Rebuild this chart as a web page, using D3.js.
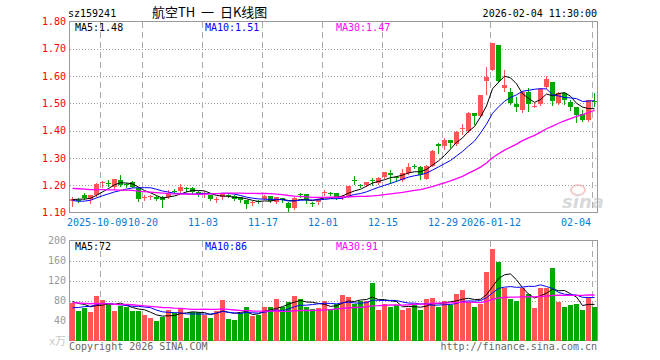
<!DOCTYPE html>
<html>
<head>
<meta charset="utf-8">
<script src="https://cdn.jsdelivr.net/npm/d3@7"></script>
<style>
    body { margin: 0; background: #fff; }
    text { font-family: "DejaVu Sans Mono", monospace; font-size: 10px; }
</style>
</head>
<body>
<script>
// trading days shown (09-24 .. 02-04)
const dates = [
    "2025-09-24", "2025-09-25", "2025-09-26", "2025-09-29", "2025-09-30",
    "2025-10-09", "2025-10-10", "2025-10-13", "2025-10-14", "2025-10-15", "2025-10-16", "2025-10-17",
    "2025-10-20", "2025-10-21", "2025-10-22", "2025-10-23", "2025-10-24",
    "2025-10-27", "2025-10-28", "2025-10-29", "2025-10-30", "2025-10-31",
    "2025-11-03", "2025-11-04", "2025-11-05", "2025-11-06", "2025-11-07",
    "2025-11-10", "2025-11-11", "2025-11-12", "2025-11-13", "2025-11-14",
    "2025-11-17", "2025-11-18", "2025-11-19", "2025-11-20", "2025-11-21",
    "2025-11-24", "2025-11-25", "2025-11-26", "2025-11-27", "2025-11-28",
    "2025-12-01", "2025-12-02", "2025-12-03", "2025-12-04", "2025-12-05",
    "2025-12-08", "2025-12-09", "2025-12-10", "2025-12-11", "2025-12-12",
    "2025-12-15", "2025-12-16", "2025-12-17", "2025-12-18", "2025-12-19",
    "2025-12-22", "2025-12-23", "2025-12-24", "2025-12-25", "2025-12-26",
    "2025-12-29", "2025-12-30", "2025-12-31",
    "2026-01-05", "2026-01-06", "2026-01-07", "2026-01-08", "2026-01-09",
    "2026-01-12", "2026-01-13", "2026-01-14", "2026-01-15", "2026-01-16",
    "2026-01-19", "2026-01-20", "2026-01-21", "2026-01-22", "2026-01-23",
    "2026-01-26", "2026-01-27", "2026-01-28", "2026-01-29", "2026-01-30",
    "2026-02-02", "2026-02-03", "2026-02-04"
];

const open = [
    1.142, 1.147, 1.163, 1.151, 1.163, 1.208, 1.209, 1.195, 1.218, 1.203, 1.212, 1.190,
    1.155, 1.158, 1.157, 1.158, 1.157, 1.180, 1.178, 1.191, 1.190, 1.176,
    1.166, 1.163, 1.147, 1.156, 1.163, 1.160, 1.155, 1.144, 1.135, 1.142,
    1.151, 1.160, 1.139, 1.152, 1.135, 1.117, 1.168, 1.166, 1.135, 1.137,
    1.173, 1.171, 1.170, 1.155, 1.160, 1.219, 1.201, 1.200, 1.219, 1.208,
    1.230, 1.243, 1.231, 1.218, 1.243, 1.271, 1.266, 1.224, 1.272, 1.352,
    1.344, 1.364, 1.352,
    1.405, 1.398, 1.464, 1.453, 1.582, 1.624, 1.713, 1.557, 1.541, 1.498,
    1.474, 1.541, 1.489, 1.497, 1.559, 1.578, 1.500, 1.538, 1.506, 1.486,
    1.462, 1.439, 1.510
];
const high = [
    1.155, 1.152, 1.172, 1.165, 1.208, 1.215, 1.218, 1.222, 1.237, 1.208, 1.215, 1.192,
    1.165, 1.165, 1.160, 1.160, 1.182, 1.185, 1.205, 1.192, 1.193, 1.178,
    1.178, 1.165, 1.155, 1.170, 1.167, 1.163, 1.158, 1.147, 1.142, 1.145,
    1.163, 1.161, 1.158, 1.154, 1.137, 1.156, 1.172, 1.168, 1.140, 1.148,
    1.182, 1.175, 1.172, 1.163, 1.198, 1.233, 1.206, 1.212, 1.226, 1.230,
    1.250, 1.255, 1.235, 1.261, 1.280, 1.276, 1.269, 1.274, 1.329, 1.354,
    1.374, 1.366, 1.397,
    1.423, 1.467, 1.466, 1.532, 1.633, 1.723, 1.715, 1.624, 1.557, 1.522,
    1.547, 1.557, 1.500, 1.555, 1.600, 1.580, 1.542, 1.540, 1.512, 1.487,
    1.477, 1.513, 1.538
];
const low = [
    1.125, 1.140, 1.150, 1.135, 1.160, 1.195, 1.198, 1.185, 1.198, 1.192, 1.192, 1.142,
    1.145, 1.150, 1.146, 1.120, 1.152, 1.170, 1.176, 1.180, 1.172, 1.160,
    1.157, 1.145, 1.140, 1.150, 1.155, 1.145, 1.138, 1.115, 1.128, 1.133,
    1.148, 1.138, 1.135, 1.140, 1.106, 1.113, 1.155, 1.133, 1.125, 1.130,
    1.165, 1.163, 1.150, 1.148, 1.158, 1.204, 1.192, 1.198, 1.200, 1.205,
    1.228, 1.207, 1.215, 1.215, 1.240, 1.262, 1.224, 1.221, 1.269, 1.317,
    1.334, 1.339, 1.349,
    1.389, 1.395, 1.423, 1.452, 1.533, 1.622, 1.580, 1.545, 1.497, 1.472,
    1.469, 1.472, 1.485, 1.494, 1.557, 1.494, 1.497, 1.497, 1.477, 1.433,
    1.435, 1.435, 1.489
];
const close = [
    1.148, 1.145, 1.153, 1.163, 1.206, 1.210, 1.207, 1.222, 1.201, 1.200, 1.195, 1.148,
    1.158, 1.160, 1.150, 1.147, 1.168, 1.178, 1.194, 1.189, 1.176, 1.167,
    1.170, 1.150, 1.149, 1.166, 1.161, 1.150, 1.145, 1.130, 1.137, 1.140,
    1.160, 1.141, 1.155, 1.146, 1.118, 1.154, 1.166, 1.146, 1.133, 1.145,
    1.175, 1.169, 1.153, 1.161, 1.196, 1.217, 1.199, 1.210, 1.217, 1.227,
    1.247, 1.237, 1.229, 1.245, 1.267, 1.269, 1.236, 1.272, 1.325, 1.344,
    1.366, 1.355, 1.394,
    1.408, 1.464, 1.454, 1.530, 1.597, 1.722, 1.582, 1.567, 1.500, 1.487,
    1.541, 1.498, 1.492, 1.552, 1.588, 1.508, 1.538, 1.511, 1.486, 1.458,
    1.439, 1.511, 1.508
];
// volume, 万
const volume = [
    76, 60, 66, 58, 89, 81, 74, 60, 70, 67, 59, 59,
    52, 46, 40, 47, 62, 55, 66, 46, 58, 57,
    52, 46, 59, 81, 44, 42, 55, 68, 50, 52,
    68, 68, 83, 67, 77, 89, 84, 68, 64, 66,
    79, 64, 74, 91, 87, 74, 79, 79, 115, 62,
    74, 67, 72, 62, 65, 72, 62, 83, 85, 68,
    79, 72, 93,
    101, 77, 67, 74, 138, 183, 157, 105, 83, 79,
    105, 93, 65, 105, 105, 146, 77, 67, 72, 73,
    61, 88, 67
];

// sessions before the window, only feeding the moving averages
const priorCloses = [
    1.19, 1.20, 1.21, 1.22, 1.21, 1.22, 1.23, 1.22, 1.21, 1.22,
    1.23, 1.22, 1.21, 1.20, 1.21, 1.22, 1.21, 1.20, 1.20, 1.19,
    1.17, 1.15, 1.13, 1.12, 1.13, 1.14, 1.15, 1.15, 1.15
];
const priorVolume = [
    85, 90, 78, 72, 95, 88, 80, 75, 70, 82,
    90, 85, 78, 74, 80, 76, 84, 79, 72, 87,
    55, 48, 52, 60, 50, 80, 75, 82, 77
];

const priceTicks = [1.10, 1.20, 1.30, 1.40, 1.50, 1.60, 1.70, 1.80];
const volumeTicks = [40, 80, 120, 160, 200];
const dateTicks = ["2025-10-09", "2025-10-20", "2025-11-03", "2025-11-17", "2025-12-01",
    "2025-12-15", "2025-12-29", "2026-01-12", "2026-02-04"];
const dateTickLabels = ["2025-10-09", "10-20", "11-03", "11-17", "12-01",
    "12-15", "12-29", "2026-01-12", "02-04"];

const maPeriods = [5, 10, 30];
const maColors = ["#000000", "#0000ff", "#ff00ff"];

const UP = "#ff5555", DOWN = "#00a800";

const left = 70, right = 598;
const priceTop = 21.5, priceBottom = 212.5;
const volTop = 240.5, volBottom = 340.5;

const svg = d3.select("body").append("svg")
    .attr("width", 660)
    .attr("height", 360)
    .style("background-color", "#fff");

const x = d3.scaleBand().domain(dates).range([left, right]);
const y = d3.scaleLinear().domain([1.10, 1.80]).range([priceBottom, priceTop]);
const yv = d3.scaleLinear().domain([0, 200]).range([volBottom, volTop]);

function movingAverage(values, prior, n) {
    let all = prior.concat(values);
    return values.map((v, i) => d3.mean(all.slice(prior.length + i - n + 1, prior.length + i + 1)));
}

let candles = dates.map((d, i) => ({
    date: d, o: open[i], h: high[i], l: low[i], c: close[i], v: volume[i]
}));
let priceMA = maPeriods.map(n => movingAverage(close, priorCloses, n));
let volumeMA = maPeriods.map(n => movingAverage(volume, priorVolume, n));

// header
svg.append("text").attr("x", 68).attr("y", 17).text("sz159241");
svg.append("text").attr("x", 152).attr("y", 17)
    .attr("xml:space", "preserve")
    .style("font-family", '"Noto Sans CJK SC", sans-serif')
    .style("font-size", "13px")
    .text("航空TH  一  日K线图");
svg.append("text").attr("x", 597).attr("y", 17)
    .style("text-anchor", "end")
    .text("2026-02-04 11:30:00");

// grid
let grid = svg.append("g").attr("shape-rendering", "crispEdges");
grid.selectAll("line.hp")
    .data(priceTicks.slice(1, -1))
    .enter()
    .append("line")
    .attr("x1", left).attr("x2", right)
    .attr("y1", d => Math.round(y(d)) + 0.5)
    .attr("y2", d => Math.round(y(d)) + 0.5)
    .attr("stroke", "#a0a0a0")
    .attr("stroke-dasharray", "1,2");
grid.selectAll("line.hv")
    .data(volumeTicks.slice(0, -1))
    .enter()
    .append("line")
    .attr("x1", left).attr("x2", right)
    .attr("y1", d => Math.round(yv(d)) + 0.5)
    .attr("y2", d => Math.round(yv(d)) + 0.5)
    .attr("stroke", "#a0a0a0")
    .attr("stroke-dasharray", "1,2");
[[priceTop, priceBottom], [volTop, volBottom]].forEach(function (range) {
    grid.selectAll(null)
        .data(dateTicks)
        .enter()
        .append("line")
        .attr("x1", d => x(d) + 0.5).attr("x2", d => x(d) + 0.5)
        .attr("y1", range[0]).attr("y2", range[1])
        .attr("stroke", "#aaaaaa")
        .attr("stroke-width", 1.2)
        .attr("stroke-dasharray", "6,4");
});

// frames
[[priceTop, priceBottom], [volTop, volBottom]].forEach(function (range) {
    svg.append("rect")
        .attr("x", left - 0.5)
        .attr("y", range[0])
        .attr("width", right - left)
        .attr("height", range[1] - range[0])
        .attr("fill", "none")
        .attr("stroke", "#999")
        .attr("stroke-width", 1.2)
        .attr("shape-rendering", "crispEdges");
});

// sina watermark
let mark = svg.append("g").attr("opacity", 0.55);
mark.append("ellipse")
    .attr("cx", 578).attr("cy", 190).attr("rx", 7).attr("ry", 5)
    .attr("fill", "none").attr("stroke", "#f3a0a0").attr("stroke-width", 2);
mark.append("text")
    .attr("x", 562).attr("y", 208)
    .style("font-family", '"DejaVu Sans", sans-serif')
    .style("font-size", "18px")
    .style("font-style", "italic")
    .style("font-weight", "bold")
    .attr("fill", "#bbb")
    .text("sina");

// candles
let candleGroup = svg.append("g").attr("shape-rendering", "crispEdges");
candleGroup.selectAll("line")
    .data(candles)
    .enter()
    .append("line")
    .attr("x1", d => x(d.date) + 2.5).attr("x2", d => x(d.date) + 2.5)
    .attr("y1", d => Math.round(y(d.h))).attr("y2", d => Math.round(y(d.l)) + 1)
    .attr("stroke", d => d.c >= d.o ? UP : DOWN);
candleGroup.selectAll("rect")
    .data(candles)
    .enter()
    .append("rect")
    .attr("x", d => x(d.date))
    .attr("width", x.bandwidth() - 1)
    .attr("y", d => Math.round(y(Math.max(d.o, d.c))))
    .attr("height", d => Math.max(1, Math.round(y(Math.min(d.o, d.c))) - Math.round(y(Math.max(d.o, d.c)))))
    .attr("fill", d => d.c >= d.o ? UP : DOWN);

// volume bars
svg.append("g").attr("shape-rendering", "crispEdges")
    .selectAll("rect")
    .data(candles)
    .enter()
    .append("rect")
    .attr("x", d => x(d.date))
    .attr("width", x.bandwidth() - 1)
    .attr("y", d => Math.round(yv(d.v)))
    .attr("height", d => Math.round(yv(0)) - Math.round(yv(d.v)))
    .attr("fill", d => d.c >= d.o ? UP : DOWN);

// moving averages
function drawLines(series, scale) {
    series.forEach(function (ma, k) {
        svg.append("path")
            .datum(ma)
            .attr("fill", "none")
            .attr("stroke", maColors[k])
            .attr("stroke-width", k === 2 ? 1.3 : 1)
            .attr("d", d3.line()
                .x((d, i) => x(dates[i]) + 2.5)
                .y(d => scale(d)));
    });
}
drawLines(priceMA, y);
drawLines(volumeMA, yv);

// legends
let last = dates.length - 1;
let legendX = [75, 205, 336];
maPeriods.forEach(function (n, k) {
    svg.append("text")
        .attr("x", legendX[k]).attr("y", 31)
        .attr("fill", maColors[k])
        .text("MA" + n + ":" + priceMA[k][last].toFixed(2));
    svg.append("text")
        .attr("x", legendX[k]).attr("y", 250)
        .attr("fill", maColors[k])
        .text("MA" + n + ":" + Math.round(volumeMA[k][last]));
});

// axes labels
svg.append("g")
    .attr("transform", "translate(" + left + ",0)")
    .call(d3.axisLeft(y).tickValues(priceTicks).tickFormat(d3.format(".2f")).tickSize(0).tickPadding(4))
    .call(g => g.select(".domain").remove())
    .call(g => g.selectAll("text")
        .attr("fill", "#ff0000")
        .style("font-family", '"DejaVu Sans Mono", monospace')
        .style("font-size", "10px"));

svg.append("g")
    .attr("transform", "translate(" + left + ",0)")
    .call(d3.axisLeft(yv).tickValues(volumeTicks).tickSize(0).tickPadding(4))
    .call(g => g.select(".domain").remove())
    .call(g => g.selectAll("text")
        .attr("fill", "#999")
        .style("font-family", '"DejaVu Sans Mono", monospace')
        .style("font-size", "10px"));

svg.append("text")
    .attr("x", 66).attr("y", 345)
    .style("text-anchor", "end")
    .style("font-family", '"Noto Sans CJK SC", sans-serif')
    .style("font-size", "11px")
    .attr("fill", "#c8c8c8")
    .text("x万");

// date labels: first one pinned to the frame, last one kept inside it
svg.append("g")
    .selectAll("text")
    .data(dateTicks)
    .enter()
    .append("text")
    .attr("x", function (d, i) {
        let w = dateTickLabels[i].length * 6.02;
        if (i === 0) return 67 + w / 2;
        return Math.min(x(d) + 1, 591 - w / 2);
    })
    .attr("y", 226)
    .style("text-anchor", "middle")
    .attr("fill", "#0a78d2")
    .text((d, i) => dateTickLabels[i]);

// footer
svg.append("text").attr("x", 69).attr("y", 350).attr("fill", "#666").text("Copyright 2026 SINA.COM");
svg.append("text").attr("x", 597).attr("y", 350)
    .style("text-anchor", "end")
    .attr("fill", "#666")
    .text("http://finance.sina.com.cn");
</script>
</body>
</html>
